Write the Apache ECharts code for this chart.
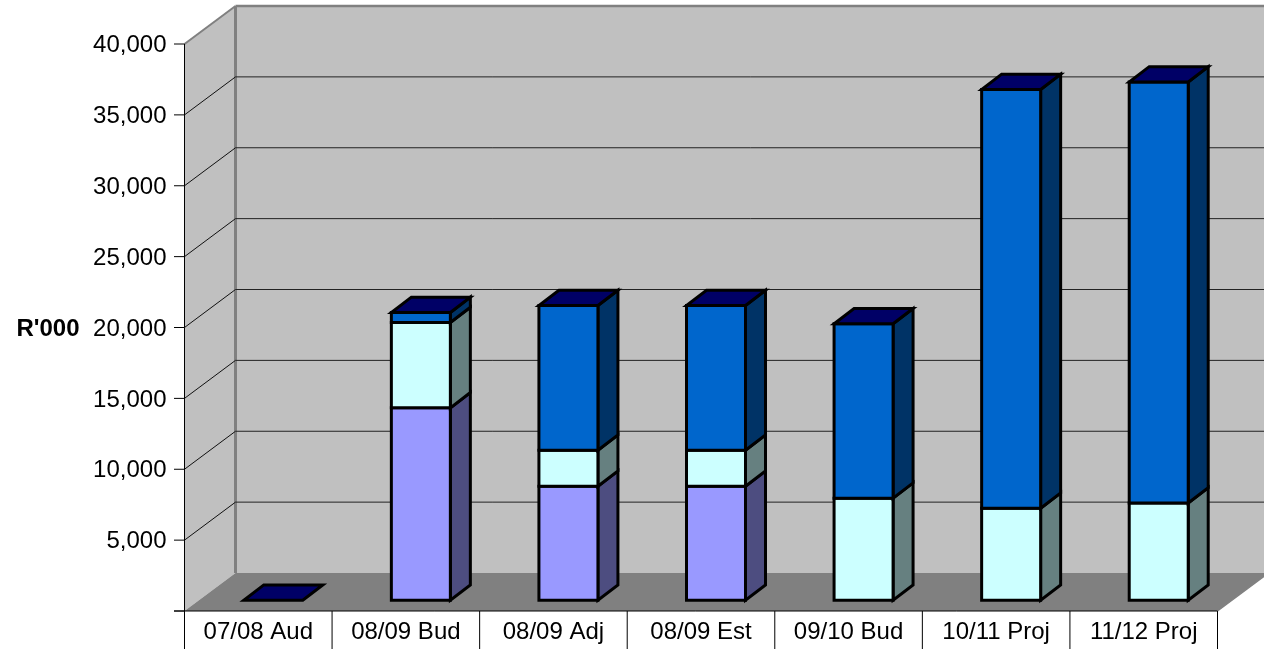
<!DOCTYPE html>
<html>
<head>
<meta charset="utf-8">
<style>html,body{margin:0;padding:0;background:#fff}#chart{width:1264px;height:649px}</style>
<script src="https://cdn.jsdelivr.net/npm/echarts@6/dist/echarts.min.js"></script>
</head>
<body>
<div id="chart"></div>
<script>
const categories = ['07/08 Aud', '08/09 Bud', '08/09 Adj', '08/09 Est', '09/10 Bud', '10/11 Proj', '11/12 Proj'];
const lowerValues = [0, 13570, 8040, 8040, 0, 0, 0];
const middleValues = [0, 6020, 2540, 2540, 7200, 6490, 6860];
const upperValues = [0, 710, 10210, 10210, 12300, 29540, 29700];
const yTicks = [0, 5000, 10000, 15000, 20000, 25000, 30000, 35000, 40000];
const yTickLabels = ['', '5,000', '10,000', '15,000', '20,000', '25,000', '30,000', '35,000', '40,000'];

// Box depth of the chart frame, and of the columns standing inside it.
const WALL_DX = 51, WALL_DY = 38;
const BAR_DX = 20, BAR_DY = 15.3;
const BAR_SHIFT_X = 15, BAR_SHIFT_Y = 10.8, BAR_WIDTH = 59;
const BAR_STROKE = 3;
const FONT = '"Liberation Sans", Arial, sans-serif';
const FONT_SIZE = 24;

const lowerTops = lowerValues;
const middleTops = lowerValues.map((v, i) => v + middleValues[i]);
const upperTops = middleTops.map((v, i) => v + upperValues[i]);

function poly(points, fill, stroke, lineWidth) {
  return {
    type: 'polygon',
    shape: { points },
    style: { fill, stroke: stroke || null, lineWidth: lineWidth || 0, lineJoin: 'miter' }
  };
}
function line(x1, y1, x2, y2, stroke, lineWidth) {
  return { type: 'line', shape: { x1, y1, x2, y2 }, style: { stroke, lineWidth } };
}

function frameEdges(api) {
  const band = api.size([1, 0])[0];
  const left = api.coord([0, 0])[0] - band / 2;
  const right = left + band * categories.length;
  const bottom = api.coord([0, yTicks[0]])[1];
  const top = api.coord([0, yTicks[yTicks.length - 1]])[1];
  return { band, left, right, bottom, top };
}

function renderFrame(params, api) {
  const f = frameEdges(api);
  const bx = f.left + WALL_DX, dy = WALL_DY;
  const rx = f.right + WALL_DX;
  return {
    type: 'group',
    children: [
      poly([[f.left, f.bottom], [f.left, f.top], [bx, f.top - dy], [bx, f.bottom - dy]], '#c0c0c0'),
      poly([[bx, f.bottom - dy], [bx, f.top - dy], [rx, f.top - dy], [rx, f.bottom - dy]], '#c0c0c0'),
      poly([[f.left, f.bottom], [bx, f.bottom - dy], [rx, f.bottom - dy], [f.right, f.bottom]], '#808080'),
      line(f.left, f.top, bx, f.top - dy, '#808080', 2),
      line(bx, f.top - dy, rx, f.top - dy, '#808080', 2.4),
      line(bx, f.top - dy, bx, f.bottom - dy, '#808080', 3),
      line(f.right, f.bottom, rx, f.bottom - dy, '#808080', 1.5)
    ]
  };
}

function renderGridLine(params, api) {
  const f = frameEdges(api);
  const y = api.coord([0, api.value(0)])[1];
  const bx = f.left + WALL_DX;
  const by = y - WALL_DY;
  return {
    type: 'group',
    children: [
      line(f.left, y, bx, by, '#111', 1),
      line(bx, by, f.right + WALL_DX, by, '#222', 1)
    ]
  };
}

function renderValueTick(params, api) {
  const f = frameEdges(api);
  const y = api.coord([0, api.value(0)])[1];
  return line(f.left - 10.5, y, f.left, y, '#000', 1);
}

function renderCategoryDivider(params, api) {
  const f = frameEdges(api);
  const x = f.left + f.band * api.value(0);
  return line(x, f.bottom, x, 649, '#000', 1);
}

function segmentRenderer(frontColor, sideColor) {
  return function (params, api) {
    const base = api.value(1), top = api.value(2);
    if (top <= base) return null;
    const cx = api.coord([api.value(0), 0])[0] + BAR_SHIFT_X;
    const y0 = api.coord([0, base])[1] - BAR_SHIFT_Y;
    const y1 = api.coord([0, top])[1] - BAR_SHIFT_Y;
    const l = cx - BAR_WIDTH / 2, r = cx + BAR_WIDTH / 2;
    return {
      type: 'group',
      children: [
        poly([[r, y0], [r, y1], [r + BAR_DX, y1 - BAR_DY], [r + BAR_DX, y0 - BAR_DY]], sideColor, '#000', BAR_STROKE),
        poly([[l, y0], [l, y1], [r, y1], [r, y0]], frontColor, '#000', BAR_STROKE)
      ]
    };
  };
}

function renderCap(params, api) {
  const cx = api.coord([api.value(0), 0])[0] + BAR_SHIFT_X;
  const y = api.coord([0, api.value(1)])[1] - BAR_SHIFT_Y;
  const l = cx - BAR_WIDTH / 2, r = cx + BAR_WIDTH / 2;
  return poly([[l, y], [r, y], [r + BAR_DX, y - BAR_DY], [l + BAR_DX, y - BAR_DY]], '#000066', '#000', BAR_STROKE);
}

function customSeries(renderItem, data, z) {
  return { type: 'custom', renderItem, data, z, silent: true, clip: false, encode: { x: 0, y: 1 }, animation: false };
}

const chart = echarts.init(document.getElementById('chart'), null, { renderer: 'canvas' });
chart.setOption({
  animation: false,
  backgroundColor: '#fff',
  textStyle: { fontFamily: FONT },
  grid: { left: 184.5, top: 44, width: 1033, height: 567 },
  xAxis: {
    type: 'category',
    data: categories,
    boundaryGap: true,
    axisLine: { show: false },
    axisTick: { show: false },
    splitLine: { show: false },
    axisLabel: { color: '#000', fontSize: FONT_SIZE, fontFamily: FONT, margin: 9, interval: 0 },
    z: 10
  },
  yAxis: {
    type: 'value',
    min: 0,
    max: 40000,
    interval: 5000,
    name: "R'000",
    nameLocation: 'middle',
    nameRotate: 0,
    nameGap: 105,
    nameTextStyle: { color: '#000', fontSize: FONT_SIZE, fontWeight: 'bold', fontFamily: FONT, align: 'right', verticalAlign: 'top', lineHeight: 4 },
    axisLine: { show: false },
    axisTick: { show: false },
    splitLine: { show: false },
    axisLabel: {
      color: '#000',
      fontSize: FONT_SIZE,
      fontFamily: FONT,
      margin: 18,
      verticalAlign: 'top',
      lineHeight: 3,
      formatter: (v) => yTickLabels[yTicks.indexOf(v)]
    },
    z: 10
  },
  series: [
    customSeries(renderFrame, [[0]], 1),
    customSeries(renderGridLine, yTicks.slice(1, -1).map((v) => [v]), 2),
    customSeries(renderValueTick, yTicks.map((v) => [v]), 3),
    customSeries(renderCategoryDivider, categories.map((c, i) => [i]).concat([[categories.length]]), 3),
    // Front axis lines, drawn through the same scale as the ticks.
    customSeries((params, api) => {
      const f = frameEdges(api);
      return {
        type: 'group',
        children: [
          line(f.left, f.bottom, f.left, f.top, '#000', 1),
          line(f.left - 10.5, f.bottom, f.right, f.bottom, '#000', 1)
        ]
      };
    }, [[0]], 4),
    customSeries(segmentRenderer('#9999ff', '#4d4d80'), categories.map((c, i) => [i, 0, lowerTops[i]]), 5),
    customSeries(segmentRenderer('#ccffff', '#668080'), categories.map((c, i) => [i, lowerTops[i], middleTops[i]]), 6),
    customSeries(segmentRenderer('#0066cc', '#003366'), categories.map((c, i) => [i, middleTops[i], upperTops[i]]), 7),
    customSeries(renderCap, categories.map((c, i) => [i, upperTops[i]]), 8)
  ]
});
</script>
</body>
</html>
